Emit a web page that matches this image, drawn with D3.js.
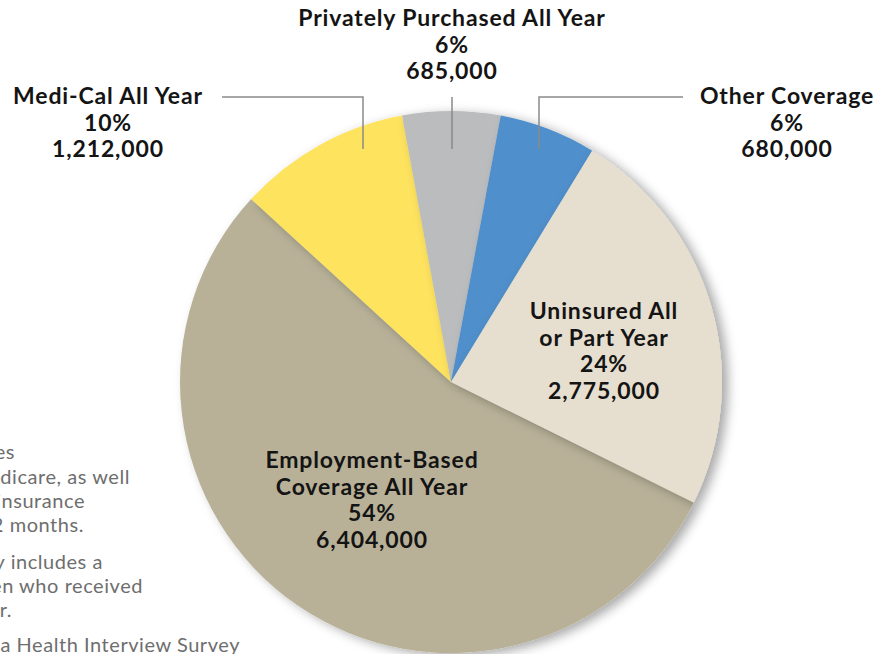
<!DOCTYPE html>
<html>
<head>
<meta charset="utf-8">
<script src="https://cdn.jsdelivr.net/npm/d3@7/dist/d3.min.js"></script>
<style>
  html, body { margin: 0; padding: 0; background: #fff; }
  svg { display: block; }
</style>
</head>
<body>
<svg id="chart" width="891" height="654"></svg>
<script>
// Coverage categories, clockwise from the top of the pie
const categories = [
  "Privately Purchased All Year",
  "Other Coverage",
  "Uninsured All or Part Year",
  "Employment-Based Coverage All Year",
  "Medi-Cal All Year"
];
const people = [685000, 680000, 2775000, 6404000, 1212000];
const percents = ["6%", "6%", "24%", "54%", "10%"];
const colors = ["#bbbcbe", "#4f8fcb", "#e6decf", "#b8b198", "#fee35f"];

// Label lines for each slice
const labelLines = [
  ["Privately Purchased All Year"],
  ["Other Coverage"],
  ["Uninsured All", "or Part Year"],
  ["Employment-Based", "Coverage All Year"],
  ["Medi-Cal All Year"]
];

// Footnote lines (run off the left edge of the page)
const notes = [
  "Notes: Other Coverage includes",
  "both Medi-Cal and Medicare, as well",
  "as other public insurance",
  "coverage for all 12 months.",
  "Uninsured All or Part Year category includes a",
  "small number of children who received",
  "coverage for part of the year.",
  "Source: 2013 California Health Interview Survey"
];

const svg = d3.select("#chart");
const cx = 451, cy = 382, radius = 271;

const defs = svg.append("defs");
const shadow = defs.append("filter").attr("id", "slice-shadow")
  .attr("x", "-20%").attr("y", "-20%").attr("width", "140%").attr("height", "140%");
shadow.append("feDropShadow")
  .attr("dx", 6).attr("dy", 3).attr("stdDeviation", 5.5)
  .attr("flood-color", "#000").attr("flood-opacity", 0.34);

const fmt = d3.format(",");
const startDeg = -10.4;
const pie = d3.pie().sort(null).value(d => d)
  .startAngle(startDeg * Math.PI / 180)
  .endAngle((startDeg + 360) * Math.PI / 180);
const arcs = pie(people);
const arc = d3.arc().innerRadius(0).outerRadius(radius);

const g = svg.append("g").attr("transform", `translate(${cx},${cy})`);

// draw employment first so every other slice casts its shadow over it
const drawOrder = [3, 4, 0, 1, 2];
g.selectAll("path.slice")
  .data(drawOrder.map(i => ({ a: arcs[i], i })))
  .join("path")
  .attr("class", "slice")
  .attr("d", d => arc(d.a))
  .attr("fill", d => colors[d.i])
  .attr("filter", "url(#slice-shadow)");

// Leader lines for the outside labels
const leaders = [
  { idx: 4, pts: [[222, 97], [363, 97], [363, 149]] },
  { idx: 0, pts: [[452, 97], [452, 149]] },
  { idx: 1, pts: [[683, 97], [539, 97], [539, 149]] }
];
svg.selectAll("path.leader")
  .data(leaders)
  .join("path")
  .attr("class", "leader")
  .attr("d", d => d3.line()(d.pts))
  .attr("fill", "none")
  .attr("stroke", "#8a8a8a")
  .attr("stroke-width", 1.5);

// Slice labels: name lines, then percent, then count
const labelPos = [
  { x: 452, y: 26 },
  { x: 787, y: 104 },
  { x: 604, y: 319 },
  { x: 372, y: 468 },
  { x: 108, y: 104 }
];
const lineH = 26.5;
labelPos.forEach((p, i) => {
  const lines = labelLines[i].concat([percents[i], fmt(people[i])]);
  const t = svg.append("text")
    .attr("text-anchor", "middle")
    .attr("font-family", "Lato, 'Open Sans', sans-serif")
    .attr("font-weight", 700)
    .attr("font-size", 23)
    .attr("letter-spacing", 0.85)
    .attr("fill", "#141414");
  lines.forEach((s, k) => {
    t.append("tspan").attr("x", p.x).attr("y", p.y + k * lineH).text(s);
  });
});

// Footnotes, right ends placed where each line stops
const noteEnds = [15, 130, 85, 84, 103, 143, 12, 240];
const noteYs = [459, 484, 508, 532, 569, 593, 617, 652];
svg.selectAll("text.note")
  .data(notes)
  .join("text")
  .attr("class", "note")
  .attr("x", (d, i) => noteEnds[i])
  .attr("y", (d, i) => noteYs[i])
  .attr("text-anchor", "end")
  .attr("font-family", "Lato, 'Open Sans', sans-serif")
  .attr("font-size", 20)
  .attr("letter-spacing", 0.55)
  .attr("fill", "#6e6e6e")
  .text(d => d);
</script>
</body>
</html>
